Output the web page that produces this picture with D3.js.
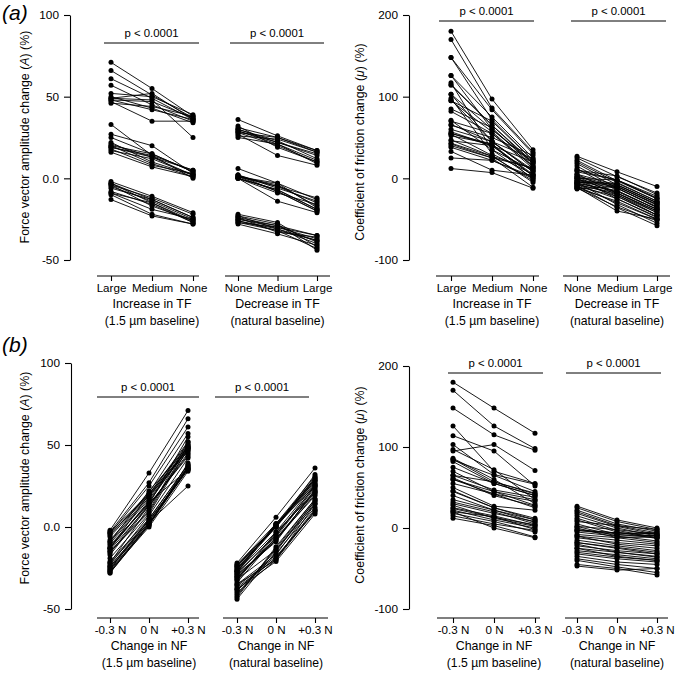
<!DOCTYPE html>
<html><head><meta charset="utf-8">
<script src="https://cdn.jsdelivr.net/npm/d3@7"></script>
<style>
body{margin:0;background:#fff}
text{font-family:"Liberation Sans",Arial,Helvetica,sans-serif;fill:#000}
</style>
</head><body>
<svg id="c" width="685" height="674"></svg>
<script>
// ---------- categories & tick labels ----------
const tfInc = ["Large", "Medium", "None"];
const tfDec = ["None", "Medium", "Large"];
const nfLevels = ["-0.3 N", "0 N", "+0.3 N"];
const forceTicks = [100, 50, 0, -50];
const forceTickLabels = ["100", "50", "0.0", "-50"];
const fricTicks = [200, 100, 0, -100];
const fricTickLabels = ["200", "100", "0", "-100"];
const pLabel = "p < 0.0001";

// ---------- force vector amplitude change (%) ----------
// rows = participants, columns = TF level; one array per NF level
// Increase in TF (1.5 um baseline): columns Large, Medium, None
const forceInc_m03 = [[-2,-11,-21],[-3,-13,-24],[-4,-12,-22],[-5,-14,-25],[-3,-15,-26],[-8,-16,-27],[-9,-19,-25],[-10,-22,-28],[-13,-23,-28],[-6,-13,-24],[-4,-17,-26],[-9,-15,-27]];
const forceInc_0   = [[33,14,5],[27,20,3],[25,15,4],[21,13,2],[20,9,1],[19,14,0],[18,8,3],[17,12,2],[16,7,1],[20,15,4],[19,13,5],[22,10,2]];
const forceInc_p03 = [[71,55,38],[66,51,37],[61,49,36],[57,45,35],[52,50,39],[50,43,34],[49,48,25],[48,47,37],[48,42,36],[47,35,35],[46,44,38],[49,52,36]];
// Decrease in TF (natural baseline): columns None, Medium, Large
const forceDec_m03 = [[-22,-27,-42],[-23,-28,-44],[-24,-29,-35],[-25,-30,-37],[-26,-31,-40],[-27,-32,-38],[-28,-34,-41],[-24,-33,-36],[-25,-29,-39],[-26,-32,-43],[-27,-30,-35],[-23,-31,-38]];
const forceDec_0   = [[6,-3,-13],[2,-5,-15],[1,-4,-17],[0,-7,-19],[1,-8,-20],[0,-14,-21],[2,-6,-14],[1,-3,-18],[0,-9,-16],[1,-5,-12],[2,-8,-20],[0,-7,-19]];
const forceDec_p03 = [[36,26,17],[31,25,16],[30,22,15],[29,21,11],[28,20,10],[27,14,8],[26,24,16],[25,21,9],[30,23,12],[28,25,17],[29,22,14],[32,19,10]];

// ---------- coefficient of friction change (%) ----------
// Increase in TF (1.5 um baseline): columns Large, Medium, None
const fricInc_m03 = [[180,97,35],[170,86,32],[148,84,30],[126,75,25],[95,70,22],[114,65,20],[103,60,18],[85,62,15],[82,55,12],[65,50,28],[60,45,24],[46,40,20]];
const fricInc_0   = [[148,72,22],[126,60,20],[115,65,18],[70,55,15],[103,45,10],[95,57,14],[66,45,8],[57,40,5],[55,42,3],[47,27,12],[42,25,13],[25,22,0]];
const fricInc_p03 = [[117,35,10],[98,30,5],[96,45,8],[55,40,3],[71,35,0],[52,42,-2],[54,28,-5],[43,27,-3],[40,25,-11],[38,22,2],[33,10,4],[12,7,-12]];
// Decrease in TF (natural baseline): columns None, Medium, Large
const fricDec_m03 = [[27,8,-10],[25,2,-18],[22,-3,-25],[20,-5,-28],[18,-8,-30],[15,-12,-35],[12,-15,-38],[10,-2,-22],[5,-18,-40],[2,-20,-45],[0,-25,-47],[-3,-10,-32]];
const fricDec_0   = [[10,3,-20],[8,-2,-24],[5,-8,-30],[3,-10,-33],[2,-12,-36],[0,-18,-42],[-3,-22,-45],[-5,-6,-28],[-8,-25,-48],[-10,-30,-50],[-12,-35,-52],[-6,-15,-38]];
const fricDec_p03 = [[0,-2,-25],[-2,-8,-30],[-4,-12,-35],[-6,-16,-38],[-8,-18,-40],[-10,-22,-45],[-12,-28,-50],[-13,-10,-32],[-5,-32,-55],[-9,-36,-58],[-11,-40,-50],[-7,-20,-42]];

// panel (a): one line per participant x NF level, across TF
function linesAcrossTF(m03, z, p03) { return [...m03, ...z, ...p03]; }
// panel (b): one line per participant x TF level, across NF
function linesAcrossNF(m03, z, p03) {
  const out = [];
  for (let t = 0; t < 3; t++) m03.forEach((row, s) => out.push([m03[s][t], z[s][t], p03[s][t]]));
  return out;
}

const svg = d3.select("#c");
const FONT = '"Liberation Sans",Arial,sans-serif';

function drawPanel(cfg) {
  const g = svg.append("g");
  const y = d3.scaleLinear().domain(cfg.domain).range(cfg.yRange);
  // y axis
  const ya = g.append("g").attr("transform", `translate(${cfg.axisX},0)`)
    .call(d3.axisLeft(y).tickValues(cfg.ticks).tickFormat((d, i) => cfg.tickLabels[i]).tickSize(6).tickSizeOuter(0).tickPadding(5));
  ya.selectAll("path,line").attr("stroke", "#000").attr("stroke-width", 1.1);
  ya.selectAll("text").attr("font-size", 11.8).style("font-family", FONT);
  // y title
  const tt = g.append("text").attr("transform", `translate(${cfg.titleX},${cfg.titleY}) rotate(-90)`)
    .attr("text-anchor", "middle").attr("font-size", 12.4);
  tt.append("tspan").text(cfg.titlePre);
  tt.append("tspan").attr("font-style", "italic").text(cfg.titleSym);
  tt.append("tspan").text(cfg.titlePost);

  cfg.groups.forEach(gr => {
    const x = d3.scalePoint().domain(gr.cats).range(gr.xr);
    // bottom axis line
    g.append("line").attr("x1", gr.axis[0]).attr("x2", gr.axis[1]).attr("y1", cfg.axisY).attr("y2", cfg.axisY)
      .attr("stroke", "#000").attr("stroke-width", 1.1);
    const xa = g.append("g").attr("transform", `translate(0,${cfg.axisY})`)
      .call(d3.axisBottom(x).tickSize(5).tickSizeOuter(0).tickPadding(3));
    xa.select(".domain").remove();
    xa.selectAll("line").attr("stroke", "#000").attr("stroke-width", 1.1);
    xa.selectAll("text").attr("font-size", 11.6).style("font-family", FONT);
    const cx = (gr.xr[0] + gr.xr[1]) / 2;
    g.append("text").attr("x", cx).attr("y", cfg.axisY + 32).attr("text-anchor", "middle").attr("font-size", 12.4).text(gr.title1);
    g.append("text").attr("x", cx).attr("y", cfg.axisY + 49).attr("text-anchor", "middle").attr("font-size", 12.2).text(gr.title2);
    // p value bracket
    g.append("line").attr("x1", gr.p[0]).attr("x2", gr.p[1]).attr("y1", gr.pY).attr("y2", gr.pY)
      .attr("stroke", "#000").attr("stroke-width", 1);
    g.append("text").attr("x", (gr.p[0] + gr.p[1]) / 2).attr("y", gr.pY - 6).attr("text-anchor", "middle")
      .attr("font-size", 11.4).text(pLabel);
    // lines & points
    const line = d3.line().x((d, i) => x(gr.cats[i])).y(d => y(d));
    g.append("g").selectAll("path").data(gr.lines).join("path")
      .attr("d", line).attr("fill", "none").attr("stroke", "#000").attr("stroke-width", 0.9);
    const pts = gr.lines.flatMap(l => l.map((v, i) => ({ c: gr.cats[i], v })));
    g.append("g").selectAll("circle").data(pts).join("circle")
      .attr("cx", d => x(d.c)).attr("cy", d => y(d.v)).attr("r", 2.5).attr("fill", "#000");
  });
}

const forceTitle = { titlePre: "Force vector amplitude change (", titleSym: "A", titlePost: ") (%)" };
const fricTitle = { titlePre: "Coefficient of friction change (", titleSym: "\u03BC", titlePost: ") (%)" };

// (a) left
drawPanel(Object.assign({
  axisX: 70, domain: [-50, 100], yRange: [260, 15], ticks: forceTicks, tickLabels: forceTickLabels,
  titleX: 29, titleY: 137, axisY: 276,
  groups: [
    { cats: tfInc, xr: [111, 193], axis: [97, 199], p: [104, 199], pY: 43, title1: "Increase in TF", title2: "(1.5 \u00B5m baseline)",
      lines: linesAcrossTF(forceInc_m03, forceInc_0, forceInc_p03) },
    { cats: tfDec, xr: [238, 317], axis: [225, 330], p: [230, 324], pY: 43, title1: "Decrease in TF", title2: "(natural baseline)",
      lines: linesAcrossTF(forceDec_m03, forceDec_0, forceDec_p03) }
  ]
}, forceTitle));

// (a) right
drawPanel(Object.assign({
  axisX: 409, domain: [-100, 200], yRange: [260, 15], ticks: fricTicks, tickLabels: fricTickLabels,
  titleX: 364, titleY: 142, axisY: 276,
  groups: [
    { cats: tfInc, xr: [451, 533], axis: [436, 539], p: [439, 534], pY: 21, title1: "Increase in TF", title2: "(1.5 \u00B5m baseline)",
      lines: linesAcrossTF(fricInc_m03, fricInc_0, fricInc_p03) },
    { cats: tfDec, xr: [577, 657], axis: [563, 670], p: [571, 666], pY: 21, title1: "Decrease in TF", title2: "(natural baseline)",
      lines: linesAcrossTF(fricDec_m03, fricDec_0, fricDec_p03) }
  ]
}, fricTitle));

// (b) left
drawPanel(Object.assign({
  axisX: 71, domain: [-50, 100], yRange: [609, 363], ticks: forceTicks, tickLabels: forceTickLabels,
  titleX: 29, titleY: 478, axisY: 618,
  groups: [
    { cats: nfLevels, xr: [110, 188], axis: [97, 199], p: [97, 199], pY: 397, title1: "Change in NF", title2: "(1.5 \u00B5m baseline)",
      lines: linesAcrossNF(forceInc_m03, forceInc_0, forceInc_p03) },
    { cats: nfLevels, xr: [237, 315], axis: [223, 328], p: [215, 309], pY: 397, title1: "Change in NF", title2: "(natural baseline)",
      lines: linesAcrossNF(forceDec_m03, forceDec_0, forceDec_p03) }
  ]
}, forceTitle));

// (b) right
drawPanel(Object.assign({
  axisX: 409, domain: [-100, 200], yRange: [609, 366], ticks: fricTicks, tickLabels: fricTickLabels,
  titleX: 364, titleY: 485, axisY: 618,
  groups: [
    { cats: nfLevels, xr: [453, 535], axis: [437, 540], p: [448, 543], pY: 373, title1: "Change in NF", title2: "(1.5 \u00B5m baseline)",
      lines: linesAcrossNF(fricInc_m03, fricInc_0, fricInc_p03) },
    { cats: nfLevels, xr: [577, 657], axis: [565, 668], p: [566, 661], pY: 373, title1: "Change in NF", title2: "(natural baseline)",
      lines: linesAcrossNF(fricDec_m03, fricDec_0, fricDec_p03) }
  ]
}, fricTitle));

// panel letters
svg.append("text").attr("x", 2).attr("y", 20).attr("font-size", 21).attr("font-style", "italic").text("(a)");
svg.append("text").attr("x", 2).attr("y", 352).attr("font-size", 21).attr("font-style", "italic").text("(b)");
</script>
</body></html>
